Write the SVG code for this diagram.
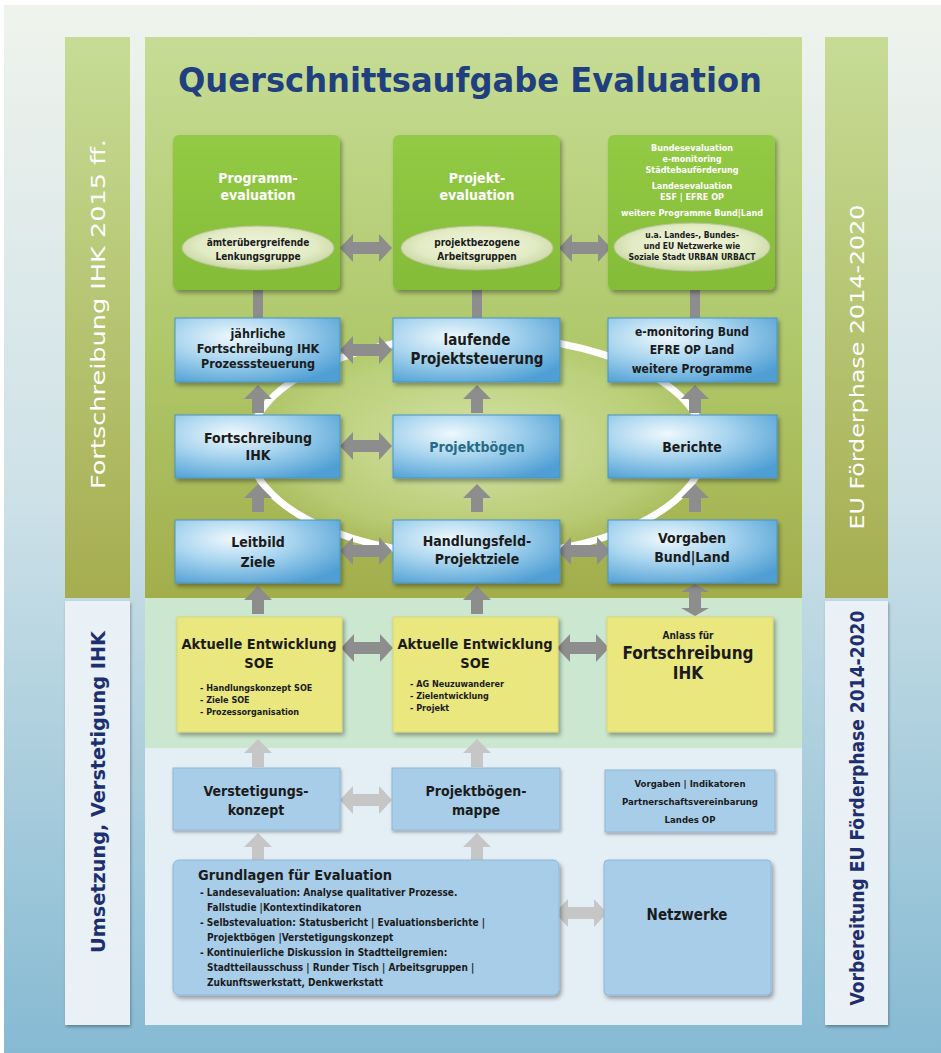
<svg xmlns="http://www.w3.org/2000/svg" width="941" height="1053" viewBox="0 0 941 1053">
<defs>
<linearGradient id="bg" x1="0" y1="0" x2="0" y2="1">
<stop offset="0" stop-color="#eff3ec"/><stop offset="0.45" stop-color="#cfe2e8"/><stop offset="1" stop-color="#86bad3"/>
</linearGradient>
<linearGradient id="greenPanel" x1="0" y1="0" x2="0" y2="1">
<stop offset="0" stop-color="#c6dc95"/><stop offset="0.55" stop-color="#afc86a"/><stop offset="1" stop-color="#a3ae4b"/>
</linearGradient>
<linearGradient id="barGreen" x1="0" y1="0" x2="0" y2="1">
<stop offset="0" stop-color="#c6dc95"/><stop offset="1" stop-color="#a6ad50"/>
</linearGradient>
<radialGradient id="glow" cx="0.5" cy="0.5" r="0.5">
<stop offset="0" stop-color="#dfeab8" stop-opacity="0.9"/><stop offset="0.8" stop-color="#c8dc90" stop-opacity="0.5"/><stop offset="1" stop-color="#c0d585" stop-opacity="0.2"/>
</radialGradient>
<radialGradient id="blueBox" cx="0.35" cy="0.3" r="0.8">
<stop offset="0" stop-color="#eef8fd"/><stop offset="0.45" stop-color="#a9d5ef"/><stop offset="1" stop-color="#4f9fd4"/>
</radialGradient>
<linearGradient id="greenBox" x1="0" y1="0" x2="0" y2="1">
<stop offset="0" stop-color="#93ca45"/><stop offset="1" stop-color="#84bc38"/>
</linearGradient>
<radialGradient id="oval" cx="0.5" cy="0.45" r="0.55">
<stop offset="0" stop-color="#f1f5df"/><stop offset="0.7" stop-color="#e2ebc4"/><stop offset="1" stop-color="#cbd7a6"/>
</radialGradient>
<filter id="sh" x="-10%" y="-10%" width="125%" height="130%">
<feDropShadow dx="2" dy="3" stdDeviation="2" flood-color="#000" flood-opacity="0.35"/>
</filter>
<filter id="shl" x="-10%" y="-10%" width="125%" height="130%">
<feDropShadow dx="1" dy="2" stdDeviation="1.5" flood-color="#000" flood-opacity="0.3"/>
</filter>
<path id="dblH" d="M-26,0 L-13,-14 L-13,-6 L13,-6 L13,-14 L26,0 L13,14 L13,6 L-13,6 L-13,14 Z"/>
<path id="up" d="M0,-14 L14,0 L6,0 L6,14 L-6,14 L-6,0 L-14,0 Z"/>
<style>
.t{font-family:"DejaVu Sans Condensed","DejaVu Sans",sans-serif;font-weight:bold;text-anchor:middle;fill:#1b1b1b}
.l{text-anchor:start}
.w{fill:#ffffff}
.a{fill:#8d8d8d}
.al{fill:#c6c6c6}
.bb{fill:url(#blueBox);stroke:#4a93c6;stroke-width:1}
.yb{fill:#e9e77d;stroke:#d6d46a;stroke-width:0.8}
.lb{fill:#a8cde9;stroke:#8fb7d8;stroke-width:1}
.side{font-family:"DejaVu Sans Condensed","DejaVu Sans",sans-serif;text-anchor:middle}
</style>
</defs>

<rect x="0" y="0" width="941" height="1053" fill="#ffffff"/>
<rect x="4" y="5" width="937" height="1048" fill="url(#bg)"/>

<!-- side bars -->
<g id="left-bar">
<rect x="65" y="37" width="65" height="561" fill="url(#barGreen)"/>
<rect x="65" y="601" width="65" height="424" fill="#e9f0f6" filter="url(#shl)"/>
<text class="side" transform="translate(105,314) rotate(-90)" font-size="20" fill="#ffffff" textLength="350" lengthAdjust="spacingAndGlyphs">Fortschreibung IHK 2015 ff.</text>
<text class="side" transform="translate(105,792) rotate(-90)" font-size="20" font-weight="bold" fill="#1d2f6e" textLength="322" lengthAdjust="spacingAndGlyphs">Umsetzung, Verstetigung IHK</text>
</g>
<g id="right-bar">
<rect x="825" y="37" width="63" height="561" fill="url(#barGreen)"/>
<rect x="825" y="601" width="63" height="424" fill="#e9f0f6" filter="url(#shl)"/>
<text class="side" transform="translate(864,367) rotate(-90)" font-size="20" fill="#ffffff" textLength="325" lengthAdjust="spacingAndGlyphs">EU Förderphase 2014-2020</text>
<text class="side" transform="translate(864,808) rotate(-90)" font-size="19" font-weight="bold" fill="#1d2f6e" textLength="395" lengthAdjust="spacingAndGlyphs">Vorbereitung EU Förderphase 2014-2020</text>
</g>

<!-- main panel -->
<g id="main-panel">
<rect x="145" y="37" width="657" height="561" fill="url(#greenPanel)"/>
<rect x="145" y="598" width="657" height="150" fill="#cbe7cf"/>
<rect x="145" y="748" width="657" height="277" fill="#e4eef5"/>
<ellipse cx="477" cy="446" rx="228" ry="110" fill="url(#glow)" stroke="#ffffff" stroke-width="7"/>
<text x="470" y="92" font-family="'DejaVu Sans Condensed','DejaVu Sans',sans-serif" font-weight="bold" font-size="33" fill="#1f3f7e" text-anchor="middle" textLength="584" lengthAdjust="spacingAndGlyphs">Querschnittsaufgabe Evaluation</text>
</g>

<!-- connectors -->
<g id="connectors">
<rect class="a" x="253" y="290" width="10" height="29"/>
<rect class="a" x="472" y="290" width="10" height="29"/>
<rect class="a" x="690" y="290" width="10" height="29"/>
<use href="#dblH" class="a" transform="translate(366,248)"/>
<use href="#dblH" class="a" transform="translate(585,248)"/>
<use href="#dblH" class="a" transform="translate(366,350)"/>
<use href="#up" class="a" transform="translate(258,399)"/>
<use href="#up" class="a" transform="translate(477,399)"/>
<use href="#up" class="a" transform="translate(695,399)"/>
<use href="#dblH" class="a" transform="translate(366,446)"/>
<use href="#up" class="a" transform="translate(258,498)"/>
<use href="#up" class="a" transform="translate(477,498)"/>
<use href="#up" class="a" transform="translate(695,498)"/>
<use href="#dblH" class="a" transform="translate(366,551)"/>
<use href="#dblH" class="a" transform="translate(584,551)"/>
<use href="#up" class="a" transform="translate(258,600)"/>
<use href="#up" class="a" transform="translate(477,600)"/>
<use href="#dblH" class="a" transform="translate(695,600) rotate(90) scale(0.62,1)"/>
<use href="#dblH" class="a" transform="translate(367,648)"/>
<use href="#dblH" class="a" transform="translate(583,648)"/>
<use href="#up" class="al" transform="translate(258,753)"/>
<use href="#up" class="al" transform="translate(477,753)"/>
<use href="#dblH" class="al" transform="translate(366,800)"/>
<use href="#up" class="al" transform="translate(258,847)"/>
<use href="#up" class="al" transform="translate(477,847)"/>
<use href="#dblH" class="al" transform="translate(581,913)"/>
</g>

<!-- top green boxes -->
<g id="programmevaluation">
<rect x="173" y="135" width="167" height="155" rx="6" fill="url(#greenBox)" filter="url(#sh)"/>
<text class="t w" x="258" y="183" font-size="14">Programm-</text>
<text class="t w" x="258" y="200" font-size="14">evaluation</text>
<ellipse cx="258" cy="248" rx="76" ry="22" fill="url(#oval)" stroke="#b8c49a" stroke-width="1"/>
<text class="t" x="258" y="246" font-size="10">ämterübergreifende</text>
<text class="t" x="258" y="260" font-size="10">Lenkungsgruppe</text>
</g>
<g id="projektevaluation">
<rect x="393" y="135" width="167" height="155" rx="6" fill="url(#greenBox)" filter="url(#sh)"/>
<text class="t w" x="477" y="183" font-size="14">Projekt-</text>
<text class="t w" x="477" y="200" font-size="14">evaluation</text>
<ellipse cx="477" cy="248" rx="76" ry="22" fill="url(#oval)" stroke="#b8c49a" stroke-width="1"/>
<text class="t" x="477" y="246" font-size="10">projektbezogene</text>
<text class="t" x="477" y="260" font-size="10">Arbeitsgruppen</text>
</g>
<g id="bundesevaluation">
<rect x="608" y="135" width="167" height="155" rx="6" fill="url(#greenBox)" filter="url(#sh)"/>
<text class="t w" x="692" y="151" font-size="9">Bundesevaluation</text>
<text class="t w" x="692" y="162" font-size="9">e-monitoring</text>
<text class="t w" x="692" y="173" font-size="9">Städtebauförderung</text>
<text class="t w" x="692" y="189" font-size="9">Landesevaluation</text>
<text class="t w" x="692" y="200" font-size="9">ESF | EFRE OP</text>
<text class="t w" x="692" y="216" font-size="9">weitere Programme Bund|Land</text>
<ellipse cx="692" cy="247" rx="78" ry="24" fill="url(#oval)" stroke="#b8c49a" stroke-width="1"/>
<text class="t" x="692" y="238" font-size="8.5">u.a. Landes-, Bundes-</text>
<text class="t" x="692" y="249" font-size="8.5">und EU Netzwerke wie</text>
<text class="t" x="692" y="260" font-size="8.5">Soziale Stadt URBAN URBACT</text>
</g>

<!-- row 2 -->
<g id="jaehrliche-fortschreibung">
<rect class="bb" x="175" y="318" width="165" height="64" filter="url(#sh)"/>
<text class="t" x="258" y="338" font-size="12.5">jährliche</text>
<text class="t" x="258" y="353" font-size="12.5">Fortschreibung IHK</text>
<text class="t" x="258" y="368" font-size="12.5">Prozesssteuerung</text>
</g>
<g id="laufende-projektsteuerung">
<rect class="bb" x="393" y="318" width="167" height="64" filter="url(#sh)"/>
<text class="t" x="477" y="345" font-size="15">laufende</text>
<text class="t" x="477" y="364" font-size="15">Projektsteuerung</text>
</g>
<g id="e-monitoring">
<rect class="bb" x="608" y="318" width="169" height="64" filter="url(#sh)"/>
<text class="t" x="692" y="336" font-size="12">e-monitoring Bund</text>
<text class="t" x="692" y="354" font-size="12">EFRE OP Land</text>
<text class="t" x="692" y="373" font-size="12">weitere Programme</text>
</g>

<!-- row 3 -->
<g id="fortschreibung-ihk">
<rect class="bb" x="175" y="415" width="165" height="63" filter="url(#sh)"/>
<text class="t" x="258" y="443" font-size="14">Fortschreibung</text>
<text class="t" x="258" y="460" font-size="14">IHK</text>
</g>
<g id="projektboegen">
<rect class="bb" x="393" y="415" width="167" height="63" filter="url(#sh)"/>
<text class="t" x="477" y="452" font-size="14" fill="#276b88" style="fill:#276b88">Projektbögen</text>
</g>
<g id="berichte">
<rect class="bb" x="608" y="415" width="169" height="63" filter="url(#sh)"/>
<text class="t" x="692" y="452" font-size="14">Berichte</text>
</g>

<!-- row 4 -->
<g id="leitbild-ziele">
<rect class="bb" x="175" y="520" width="165" height="63" filter="url(#sh)"/>
<text class="t" x="258" y="547" font-size="14">Leitbild</text>
<text class="t" x="258" y="567" font-size="14">Ziele</text>
</g>
<g id="handlungsfeld-projektziele">
<rect class="bb" x="393" y="520" width="167" height="63" filter="url(#sh)"/>
<text class="t" x="477" y="546" font-size="14">Handlungsfeld-</text>
<text class="t" x="477" y="564" font-size="14">Projektziele</text>
</g>
<g id="vorgaben-bund-land">
<rect class="bb" x="608" y="520" width="169" height="63" filter="url(#sh)"/>
<text class="t" x="692" y="543" font-size="14">Vorgaben</text>
<text class="t" x="692" y="562" font-size="14">Bund|Land</text>
</g>

<!-- yellow row -->
<g id="aktuelle-entwicklung-1">
<rect class="yb" x="177" y="617" width="165" height="115" filter="url(#sh)"/>
<text class="t" x="259" y="649" font-size="14.5">Aktuelle Entwicklung</text>
<text class="t" x="259" y="668" font-size="14.5">SOE</text>
<text class="t l" x="200" y="691" font-size="9">- Handlungskonzept SOE</text>
<text class="t l" x="200" y="703" font-size="9">- Ziele SOE</text>
<text class="t l" x="200" y="715" font-size="9">- Prozessorganisation</text>
</g>
<g id="aktuelle-entwicklung-2">
<rect class="yb" x="393" y="617" width="165" height="115" filter="url(#sh)"/>
<text class="t" x="475" y="649" font-size="14.5">Aktuelle Entwicklung</text>
<text class="t" x="475" y="668" font-size="14.5">SOE</text>
<text class="t l" x="410" y="687" font-size="9">- AG Neuzuwanderer</text>
<text class="t l" x="410" y="699" font-size="9">- Zielentwicklung</text>
<text class="t l" x="410" y="711" font-size="9">- Projekt</text>
</g>
<g id="anlass-fortschreibung">
<rect class="yb" x="607" y="617" width="166" height="115" filter="url(#sh)"/>
<text class="t" x="688" y="639" font-size="10">Anlass für</text>
<text class="t" x="688" y="659" font-size="17">Fortschreibung</text>
<text class="t" x="688" y="679" font-size="17">IHK</text>
</g>

<!-- bottom boxes -->
<g id="verstetigungskonzept">
<rect class="lb" x="173" y="768" width="167" height="62" filter="url(#shl)"/>
<text class="t" x="256" y="796" font-size="14">Verstetigungs-</text>
<text class="t" x="256" y="815" font-size="14">konzept</text>
</g>
<g id="projektboegenmappe">
<rect class="lb" x="392" y="768" width="168" height="62" filter="url(#shl)"/>
<text class="t" x="476" y="796" font-size="14">Projektbögen-</text>
<text class="t" x="476" y="815" font-size="14">mappe</text>
</g>
<g id="vorgaben-indikatoren">
<rect class="lb" x="605" y="770" width="170" height="62" filter="url(#shl)"/>
<text class="t" x="690" y="787" font-size="9.5">Vorgaben | Indikatoren</text>
<text class="t" x="690" y="805" font-size="9.5">Partnerschaftsvereinbarung</text>
<text class="t" x="690" y="823" font-size="9.5">Landes OP</text>
</g>
<g id="grundlagen">
<rect class="lb" x="173" y="860" width="386" height="135" rx="6" filter="url(#sh)"/>
<text class="t l" x="198" y="880" font-size="14.5">Grundlagen für Evaluation</text>
<text class="t l" x="200" y="896" font-size="10">- Landesevaluation: Analyse qualitativer Prozesse.</text>
<text class="t l" x="207" y="911" font-size="10">Fallstudie |Kontextindikatoren</text>
<text class="t l" x="200" y="926" font-size="10">- Selbstevaluation: Statusbericht | Evaluationsberichte |</text>
<text class="t l" x="207" y="941" font-size="10">Projektbögen |Verstetigungskonzept</text>
<text class="t l" x="200" y="956" font-size="10">- Kontinuierliche Diskussion in Stadtteilgremien:</text>
<text class="t l" x="207" y="971" font-size="10">Stadtteilausschuss | Runder Tisch | Arbeitsgruppen |</text>
<text class="t l" x="207" y="986" font-size="10">Zukunftswerkstatt, Denkwerkstatt</text>
</g>
<g id="netzwerke">
<rect class="lb" x="604" y="860" width="167" height="135" rx="4" filter="url(#sh)"/>
<text class="t" x="687" y="920" font-size="15">Netzwerke</text>
</g>
</svg>
